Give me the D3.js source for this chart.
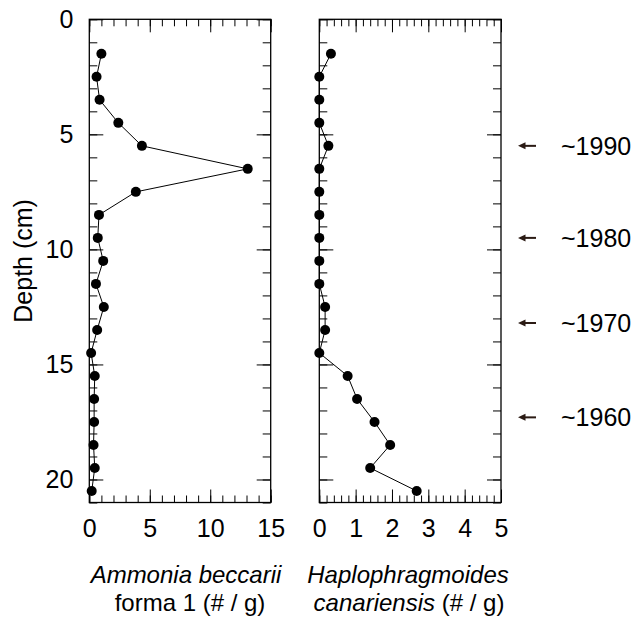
<!DOCTYPE html>
<html>
<head>
<meta charset="utf-8">
<script src="https://cdn.jsdelivr.net/npm/d3@7"></script>
<style>
  html, body { margin: 0; padding: 0; background: #fff; }
  svg { display: block; }
  text { font-family: "Liberation Sans", Arial, Helvetica, sans-serif; fill: #000; }
</style>
</head>
<body>
<svg id="chart" width="634" height="621"></svg>
<script>
// Sample depths (cm), midpoints of 1-cm slices
const depths = [1.5, 2.5, 3.5, 4.5, 5.5, 6.5, 7.5, 8.5, 9.5, 10.5,
                11.5, 12.5, 13.5, 14.5, 15.5, 16.5, 17.5, 18.5, 19.5, 20.5];
// Ammonia beccarii forma 1 (# / g)
const ammonia = [1.0, 0.6, 0.85, 2.4, 4.35, 13.1, 3.85, 0.8, 0.7, 1.15,
                 0.55, 1.2, 0.65, 0.15, 0.45, 0.4, 0.4, 0.35, 0.45, 0.2];
// Haplophragmoides canariensis (# / g)
const haplo = [0.32, 0, 0, 0, 0.25, 0, 0, 0, 0, 0,
               0, 0.16, 0.16, 0, 0.78, 1.04, 1.52, 1.95, 1.40, 2.68];
// Dated horizons
const yearLabels = ["~1990", "~1980", "~1970", "~1960"];
const yearDepths = [5.5, 9.5, 13.2, 17.3];
// Tick values
const depthMajor = [0, 5, 10, 15, 20];
const depthMinor = d3.range(0, 22, 1);
const ammoniaMajor = [0, 5, 10, 15];
const ammoniaMinor = d3.range(0, 16, 1);
const haploMajor = [0, 1, 2, 3, 4, 5];
const haploMinor = d3.range(0, 26).map(i => i / 5);

const svg = d3.select("#chart");
const FONT = 25;        // tick labels, depth title, horizon labels
const TITLE_FONT = 24;  // species titles
const plotTop = 19.3, plotBottom = 502.5;

const y = d3.scaleLinear().domain([0, 21]).range([plotTop, plotBottom]);

const panels = [
  { x0: 89.3, x1: 270.7, domain: [0, 15], major: ammoniaMajor, minor: ammoniaMinor,
    values: ammonia, yLabels: true },
  { x0: 319.3, x1: 501, domain: [0, 5], major: haploMajor, minor: haploMinor,
    values: haplo, yLabels: false }
];

function styleAxis(g) {
  g.select(".domain").remove();
  g.selectAll(".tick line").attr("stroke", "#000").attr("stroke-width", 1);
  g.selectAll(".tick text").attr("font-size", FONT)
    .attr("font-family", '"Liberation Sans", Arial, sans-serif').attr("fill", "#000");
  g.attr("font-family", null).attr("font-size", null);
}

panels.forEach(p => {
  const x = d3.scaleLinear().domain(p.domain).range([p.x0, p.x1]);
  const g = svg.append("g");

  // bottom axis (inward ticks, labelled)
  g.append("g").attr("transform", `translate(0,${plotBottom})`)
    .call(d3.axisBottom(x).tickValues(p.minor).tickSizeInner(-7).tickSizeOuter(0).tickFormat(""))
    .call(styleAxis);
  g.append("g").attr("transform", `translate(0,${plotBottom})`)
    .call(d3.axisBottom(x).tickValues(p.major).tickSizeInner(-13).tickSizeOuter(0)
      .tickPadding(17).tickFormat(d3.format("d")))
    .call(styleAxis);
  // top axis
  g.append("g").attr("transform", `translate(0,${plotTop})`)
    .call(d3.axisTop(x).tickValues(p.minor).tickSizeInner(-7).tickSizeOuter(0).tickFormat(""))
    .call(styleAxis);
  g.append("g").attr("transform", `translate(0,${plotTop})`)
    .call(d3.axisTop(x).tickValues(p.major).tickSizeInner(-13).tickSizeOuter(0).tickFormat(""))
    .call(styleAxis);
  // left axis
  g.append("g").attr("transform", `translate(${p.x0},0)`)
    .call(d3.axisLeft(y).tickValues(depthMinor).tickSizeInner(-8).tickSizeOuter(0).tickFormat(""))
    .call(styleAxis);
  g.append("g").attr("transform", `translate(${p.x0},0)`)
    .call(d3.axisLeft(y).tickValues(depthMajor).tickSizeInner(-14).tickSizeOuter(0)
      .tickPadding(16).tickFormat(p.yLabels ? d3.format("d") : ""))
    .call(styleAxis);
  // right axis
  g.append("g").attr("transform", `translate(${p.x1},0)`)
    .call(d3.axisRight(y).tickValues(depthMinor).tickSizeInner(-8).tickSizeOuter(0).tickFormat(""))
    .call(styleAxis);
  g.append("g").attr("transform", `translate(${p.x1},0)`)
    .call(d3.axisRight(y).tickValues(depthMajor).tickSizeInner(-14).tickSizeOuter(0).tickFormat(""))
    .call(styleAxis);

  // frame
  g.append("rect")
    .attr("x", p.x0).attr("y", plotTop)
    .attr("width", p.x1 - p.x0).attr("height", plotBottom - plotTop)
    .attr("fill", "none").attr("stroke", "#000").attr("stroke-width", 1.3);

  // profile line + markers
  const pts = depths.map((d, i) => [d, p.values[i]]);
  g.append("path")
    .datum(pts)
    .attr("fill", "none").attr("stroke", "#000").attr("stroke-width", 1)
    .attr("d", d3.line().x(d => x(d[1])).y(d => y(d[0])));
  g.selectAll("circle").data(pts).join("circle")
    .attr("cx", d => x(d[1])).attr("cy", d => y(d[0])).attr("r", 5)
    .attr("fill", "#000");
});

// y-axis title
svg.append("text")
  .attr("transform", `translate(32,${(plotTop + plotBottom) / 2}) rotate(-90)`)
  .attr("text-anchor", "middle").attr("font-size", FONT)
  .text("Depth (cm)");

// x-axis titles
const t1 = svg.append("g").attr("font-size", TITLE_FONT).attr("text-anchor", "middle");
t1.append("text").attr("x", 186).attr("y", 583).attr("font-style", "italic").text("Ammonia beccarii");
t1.append("text").attr("x", 190).attr("y", 611).text("forma 1 (# / g)");
const t2 = svg.append("g").attr("font-size", TITLE_FONT).attr("text-anchor", "middle");
t2.append("text").attr("x", 408).attr("y", 583).attr("font-style", "italic").text("Haplophragmoides");
const l2 = t2.append("text").attr("x", 409).attr("y", 611);
l2.append("tspan").attr("font-style", "italic").text("canariensis");
l2.append("tspan").text(" (# / g)");

// dated horizon markers
const ARROW = "#2b1b14";
const marks = svg.append("g");
yearDepths.forEach((d, i) => {
  const yy = y(d);
  marks.append("line")
    .attr("x1", 524).attr("x2", 536).attr("y1", yy).attr("y2", yy)
    .attr("stroke", ARROW).attr("stroke-width", 2);
  marks.append("path")
    .attr("d", `M518,${yy} L525.5,${yy - 3.5} L525.5,${yy + 3.5} Z`)
    .attr("fill", ARROW);
  marks.append("text")
    .attr("x", 561).attr("y", yy + 9)
    .attr("font-size", FONT)
    .text(yearLabels[i]);
});
</script>
</body>
</html>
